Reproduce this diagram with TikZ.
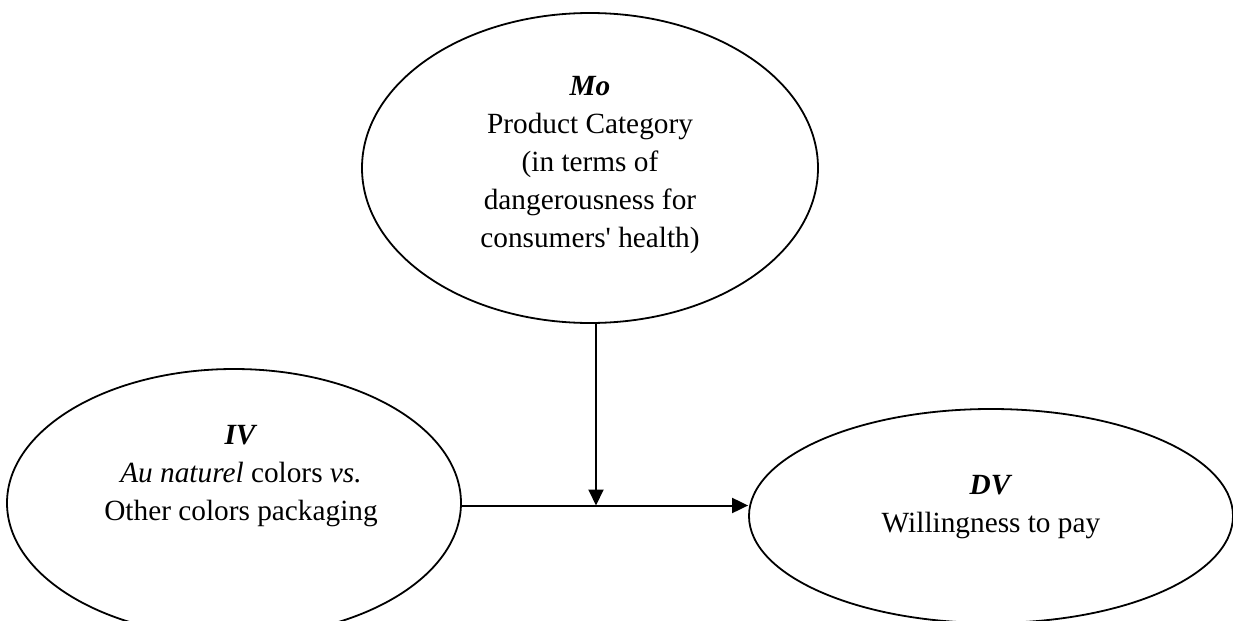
\documentclass[tikz,border=0pt]{standalone}
\usepackage{fontspec}
\setmainfont{Liberation Serif}
\usetikzlibrary{shapes.geometric,arrows.meta}
\begin{document}
\begin{tikzpicture}[x=0.5pt,y=-0.5pt,
  oval/.style={draw,ellipse,line width=0.9pt,inner sep=0pt},
  lbl/.style={align=center,font=\fontsize{14.65}{19}\selectfont,inner sep=0pt},
  conn/.style={line width=1pt,-{Triangle[length=8pt,width=7.5pt]}}]
\useasboundingbox (0,0) rectangle (1233,621);
\clip (0,0) rectangle (1233,621);
\node[oval,minimum width=228pt,minimum height=155pt] (mo) at (590,168) {};
\node[oval,minimum width=227pt,minimum height=134pt] (iv) at (234,503) {};
\node[oval,minimum width=242pt,minimum height=107pt] (dv) at (991,516) {};
\node[lbl] (motext) at (590,165) {\textbf{\textit{Mo}}\\Product Category\\(in terms of\\dangerousness for\\consumers\textquotesingle{} health)};
\node[lbl] (ivtext) at (241,476) {\textbf{\textit{IV}}\\\textit{Au naturel} colors \textit{vs.}\\Other colors packaging};
\node[lbl] (dvtext) at (991,507) {\textbf{\textit{DV}}\\Willingness to pay};
\coordinate (j) at (596,505.5);
\draw[conn] (iv.east |- j) -- (dv.west |- j);
\draw[conn] (mo.south -| j) -- (j);
\end{tikzpicture}
\end{document}
